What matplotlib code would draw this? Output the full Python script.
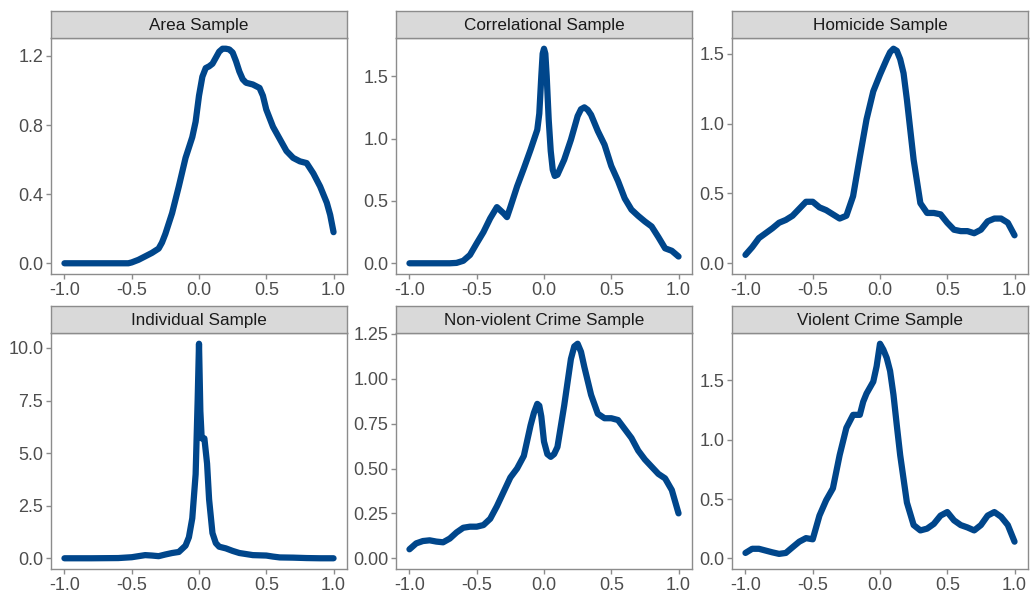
import matplotlib
matplotlib.use('Agg')
from matplotlib import pyplot as plt

plt.rcParams['font.family'] = ['Liberation Sans', 'DejaVu Sans']

titles = ['Area Sample', 'Correlational Sample', 'Homicide Sample',
          'Individual Sample', 'Non-violent Crime Sample', 'Violent Crime Sample']

area_x = [-1.0, -0.9, -0.8, -0.7, -0.6, -0.525, -0.5, -0.45, -0.4, -0.35, -0.3, -0.275, -0.25,
          -0.2, -0.15, -0.1, -0.05, -0.025, 0.0, 0.025, 0.05, 0.075, 0.1, 0.125, 0.15, 0.175, 0.2,
          0.225, 0.25, 0.275, 0.3, 0.325, 0.35, 0.4, 0.45, 0.475, 0.5, 0.55, 0.6, 0.65, 0.7, 0.75,
          0.8, 0.85, 0.9, 0.95, 0.975, 1.0]
area_y = [0.0, 0.0, 0.0, 0.0, 0.0, 0.0, 0.005, 0.02, 0.04, 0.06, 0.085, 0.12, 0.17,
          0.29, 0.445, 0.61, 0.73, 0.82, 0.97, 1.08, 1.13, 1.14, 1.155, 1.19, 1.225, 1.242, 1.242,
          1.238, 1.22, 1.17, 1.11, 1.065, 1.045, 1.035, 1.015, 0.97, 0.89, 0.79,
          0.72, 0.65, 0.61, 0.59, 0.58, 0.52, 0.445, 0.35, 0.28, 0.18]

corr_x = [-1.0, -0.9, -0.8, -0.7, -0.65, -0.6, -0.55, -0.5, -0.45, -0.4, -0.35, -0.3, -0.275,
          -0.25, -0.2, -0.15, -0.1, -0.05, -0.035, -0.02, -0.01, 0.0, 0.01, 0.02, 0.035, 0.05,
          0.065, 0.08, 0.1, 0.15, 0.2, 0.25, 0.275, 0.3, 0.325, 0.35, 0.4, 0.45, 0.5, 0.55, 0.6,
          0.65, 0.7, 0.75, 0.8, 0.85, 0.9, 0.95, 1.0]
corr_y = [0.0, 0.0, 0.0, 0.0, 0.003, 0.02, 0.067, 0.16, 0.25, 0.36, 0.45, 0.4, 0.37,
          0.45, 0.616, 0.76, 0.91, 1.07, 1.2, 1.5, 1.68, 1.72, 1.68, 1.5, 1.15, 0.9,
          0.75, 0.7, 0.71, 0.83, 0.99, 1.18, 1.235, 1.25, 1.23, 1.19, 1.06, 0.95, 0.78, 0.66, 0.52,
          0.43, 0.38, 0.335, 0.295, 0.21, 0.12, 0.1, 0.054]

homi_x = [-1.0, -0.95, -0.9, -0.85, -0.8, -0.75, -0.7, -0.65, -0.6, -0.55, -0.5, -0.45, -0.4,
          -0.35, -0.3, -0.25, -0.2, -0.15, -0.1, -0.05, 0.0, 0.05, 0.075, 0.1, 0.125, 0.15, 0.175,
          0.2, 0.25, 0.3, 0.35, 0.4, 0.45, 0.5, 0.55, 0.6, 0.65, 0.7, 0.75, 0.8, 0.85, 0.9, 0.95,
          1.0]
homi_y = [0.06, 0.115, 0.18, 0.215, 0.25, 0.29, 0.31, 0.34, 0.39, 0.44, 0.44, 0.4, 0.38,
          0.35, 0.32, 0.34, 0.48, 0.76, 1.03, 1.23, 1.35, 1.46, 1.51, 1.535, 1.52, 1.46, 1.36,
          1.17, 0.74, 0.43, 0.36, 0.36, 0.35, 0.29, 0.24, 0.23, 0.23, 0.215, 0.24, 0.3, 0.32, 0.32,
          0.29, 0.2]

indiv_x = [-1.0, -0.8, -0.6, -0.5, -0.45, -0.4, -0.35, -0.3, -0.25, -0.2, -0.15, -0.1, -0.075,
           -0.05, -0.025, -0.01, 0.0, 0.01, 0.02, 0.04, 0.06, 0.075, 0.1, 0.125, 0.15, 0.2, 0.25,
           0.3, 0.35, 0.4, 0.5, 0.55, 0.6, 0.7, 0.8, 0.9, 1.0]
indiv_y = [0.0, 0.0, 0.01, 0.05, 0.1, 0.15, 0.13, 0.1, 0.18, 0.25, 0.3, 0.6, 1.0,
           1.9, 4.0, 7.5, 10.2, 7.0, 5.7, 5.7, 4.5, 2.8, 1.2, 0.72, 0.55, 0.47, 0.35,
           0.25, 0.2, 0.15, 0.13, 0.08, 0.04, 0.03, 0.01, 0.0, 0.0]

nonv_x = [-1.0, -0.95, -0.9, -0.85, -0.8, -0.75, -0.7, -0.65, -0.6, -0.55, -0.5, -0.45, -0.4,
          -0.35, -0.3, -0.25, -0.2, -0.15, -0.1, -0.075, -0.05, -0.035, -0.02, 0.0, 0.025, 0.05,
          0.075, 0.1, 0.15, 0.2, 0.225, 0.25, 0.275, 0.3, 0.35, 0.4, 0.45, 0.5, 0.55, 0.6, 0.65,
          0.7, 0.75, 0.8, 0.85, 0.9, 0.95, 1.0]
nonv_y = [0.05, 0.083, 0.096, 0.1, 0.093, 0.089, 0.11, 0.144, 0.17, 0.176, 0.176, 0.185, 0.22,
          0.29, 0.37, 0.45, 0.5, 0.57, 0.74, 0.81, 0.86, 0.85, 0.79, 0.65, 0.58, 0.565,
          0.58, 0.62, 0.85, 1.11, 1.18, 1.195, 1.15, 1.065, 0.91, 0.805, 0.78, 0.78, 0.77, 0.72,
          0.67, 0.6, 0.55, 0.51, 0.47, 0.445, 0.38, 0.25]

viol_x = [-1.0, -0.95, -0.9, -0.85, -0.8, -0.75, -0.7, -0.65, -0.6, -0.55, -0.5, -0.45, -0.4,
          -0.35, -0.3, -0.25, -0.2, -0.15, -0.125, -0.1, -0.05, -0.025, 0.0, 0.025, 0.05, 0.075,
          0.1, 0.125, 0.15, 0.2, 0.25, 0.3, 0.35, 0.4, 0.45, 0.5, 0.55, 0.6, 0.65, 0.7, 0.75, 0.8,
          0.85, 0.9, 0.95, 1.0]
viol_y = [0.045, 0.08, 0.08, 0.065, 0.05, 0.037, 0.045, 0.093, 0.14, 0.17, 0.16, 0.36, 0.49,
          0.59, 0.87, 1.1, 1.21, 1.21, 1.32, 1.39, 1.49, 1.62, 1.81, 1.76, 1.69, 1.58,
          1.38, 1.12, 0.87, 0.47, 0.28, 0.235, 0.25, 0.29, 0.36, 0.39, 0.32, 0.28, 0.26, 0.235,
          0.28, 0.36, 0.39, 0.35, 0.28, 0.14]

series = [(area_x, area_y), (corr_x, corr_y), (homi_x, homi_y),
          (indiv_x, indiv_y), (nonv_x, nonv_y), (viol_x, viol_y)]

y_ticks = [[0.0, 0.4, 0.8, 1.2], [0.0, 0.5, 1.0, 1.5], [0.0, 0.5, 1.0, 1.5],
           [0.0, 2.5, 5.0, 7.5, 10.0], [0.0, 0.25, 0.5, 0.75, 1.0, 1.25], [0.0, 0.5, 1.0, 1.5]]
y_fmt = ['{:.1f}', '{:.1f}', '{:.1f}', '{:.1f}', '{:.2f}', '{:.1f}']
x_ticks = [-1.0, -0.5, 0.0, 0.5, 1.0]

W, H = 1030, 593
col_left = [51, 396, 732]
panel_w = 296
row_top = [38, 333]
panel_h = [236, 236]
strip_h = 27

line_color = '#00468B'
border_color = '#8C8C8C'
text_grey = '#4D4D4D'

fig = plt.figure(figsize=(W / 100, H / 100), dpi=100)

for i, (title, (xs, ys)) in enumerate(zip(titles, series)):
    r, c = divmod(i, 3)
    left = col_left[c] / W
    bottom = 1 - (row_top[r] + panel_h[r]) / H
    ax = fig.add_axes([left, bottom, panel_w / W, panel_h[r] / H])
    ax.plot(xs, ys, color=line_color, lw=4.5, solid_capstyle='round', solid_joinstyle='round')

    ymax = max(ys)
    ax.set_xlim(-1.1, 1.1)
    ax.set_ylim(-0.05 * ymax, 1.05 * ymax)
    ax.set_xticks(x_ticks)
    ax.set_xticklabels(['{:.1f}'.format(v) for v in x_ticks])
    ax.set_yticks(y_ticks[i])
    ax.set_yticklabels([y_fmt[i].format(v) for v in y_ticks[i]])
    ax.tick_params(colors=border_color, labelcolor=text_grey, labelsize=13,
                   length=3.5, width=1, pad=2)
    for s in ax.spines.values():
        s.set_color(border_color)
        s.set_linewidth(1)

    # strip on top of the panel
    sax = fig.add_axes([left, 1 - row_top[r] / H, panel_w / W, strip_h / H])
    sax.set_facecolor('#D9D9D9')
    sax.set_xticks([])
    sax.set_yticks([])
    for s in sax.spines.values():
        s.set_color(border_color)
        s.set_linewidth(1)
    sax.text(0.5, 0.47, title, ha='center', va='center', fontsize=12.3,
             color='#1A1A1A', transform=sax.transAxes)

fig.savefig('out.png', dpi=100)
